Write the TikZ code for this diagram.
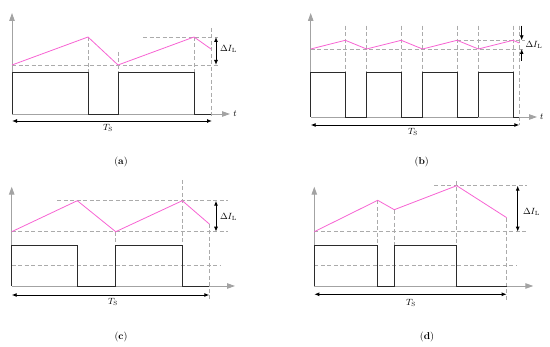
\documentclass[tikz,border=0pt]{standalone}
\usepackage{xcolor}
\usepackage{tikz}
\usetikzlibrary{arrows.meta}
\definecolor{ripplepink}{HTML}{F763D3}
\definecolor{guidegray}{HTML}{ABABAB}
\definecolor{axisgray}{HTML}{A3A3A3}
\definecolor{pulseblack}{HTML}{2B2B2B}

\begin{document}
\begin{tikzpicture}[x=1pt,y=-1pt,>=Latex,every node/.style={font=\small},
        axis/.style={draw=axisgray,line width=0.9pt,-{Triangle[length=8pt,width=5.5pt]}},
        pulse/.style={draw=pulseblack,line width=0.9pt},
        ripple/.style={draw=ripplepink,line width=0.8pt},
        guide/.style={draw=guidegray,line width=0.7pt,dash pattern=on 4pt off 2.5pt},
        span/.style={line width=0.9pt,{Latex[length=5pt,width=4pt]}-{Latex[length=5pt,width=4pt]}},
        half/.style={line width=0.9pt,-{Latex[length=5pt,width=4pt]}}]
        \useasboundingbox (0,0) rectangle (550,347);
        % (a)
        \draw[guide] (12,65) -- (218,65);
        \draw[guide] (143,37) -- (218,37);
        \draw[guide] (88,37) -- (88,114);
        \draw[guide] (118,52) -- (118,72);
        \draw[guide] (194,37) -- (194,72);
        \draw[guide] (211,28) -- (211,116);
        \draw[axis] (12,114) -- (12,13);
        \draw[axis] (12,114) -- (230,114);
        \draw[pulse] (12,114) -- (12,72) -- (88,72) -- (88,114) -- (118,114) -- (118,72) -- (194,72) -- (194,114) -- (211,114);
        \draw[ripple] (12,65) -- (88,37) -- (118,65) -- (194,37) -- (211,49);
        \coordinate (aIt) at (216,37);
        \coordinate (aIb) at (216,65);
        \draw[span] (aIt) -- (aIb);
        \node[anchor=west] (aI) at (216.5,49) {$\Delta I_{\mathrm{L}}$};
        \coordinate (aTl) at (12,121);
        \coordinate (aTr) at (212,121);
        \draw[span] (aTl) -- (aTr);
        \node (aT) at (108,128) {$T_{\mathrm{S}}$};
        \node (ta) at (235,114) {$t$};
        \node[font=\normalsize] (capa) at (121,162) {(\textbf{a})};
        % (b)
        \draw[guide] (310.7,49) -- (525,49);
        \draw[guide] (457,40.3) -- (525,40.3);
        \draw[guide] (519.3,25.7) -- (519.3,125);
        \draw[guide] (513,25.7) -- (513,72);
        \draw[axis] (310.7,117) -- (310.7,13);
        \draw[axis] (310.7,117) -- (537,117);
        \foreach \x in {310.7,366.6,422.5} {
          \draw[guide] (\x+34.6,25.7) -- ++(0,46.3);
          \draw[guide] (\x+55.9,25.7) -- ++(0,46.3);
          \draw[pulse] (\x,117) -- (\x,72) -- ++(34.6,0) -- ++(0,45) -- ++(21.3,0);
          \draw[ripple] (\x,49) -- ++(34.6,-8.7) -- ++(21.3,8.7);
        }
        \draw[pulse] (478.4,117) -- (478.4,72) -- (513,72) -- (513,117) -- (519.3,117);
        \draw[ripple] (478.4,49) -- (513,40.3) -- (519.3,43);
        \coordinate (bIt) at (521.7,25.7);
        \coordinate (bIu) at (521.7,40.3);
        \coordinate (bIb) at (521.7,61);
        \coordinate (bId) at (521.7,49);
        \draw[half] (bIt) -- (bIu);
        \draw[half] (bIb) -- (bId);
        \node[anchor=west] (bI) at (522,45) {$\Delta I_{\mathrm{L}}$};
        \coordinate (bTl) at (310.7,125);
        \coordinate (bTr) at (519.3,125);
        \draw[span] (bTl) -- (bTr);
        \node (bT) at (413,132) {$T_{\mathrm{S}}$};
        \node (tb) at (541.7,117) {$t$};
        \node[font=\normalsize] (capb) at (421.7,162) {(\textbf{b})};
        % (c)
        \draw[guide] (11.7,231.7) -- (228.3,231.7);
        \draw[guide] (57.3,200.7) -- (228.3,200.7);
        \draw[guide] (11.7,265.7) -- (220,265.7);
        \draw[guide] (115.7,231.7) -- (115.7,245);
        \draw[guide] (182.3,180) -- (182.3,286);
        \draw[guide] (209.3,224) -- (209.3,300);
        \draw[axis] (11.7,286) -- (11.7,186.7);
        \draw[axis] (11.7,286) -- (235,286);
        \draw[pulse] (11.7,286) -- (11.7,245) -- (77.3,245) -- (77.3,286) -- (115.7,286) -- (115.7,245) -- (182.3,245) -- (182.3,286) -- (209.3,286);
        \draw[ripple] (11.7,231.7) -- (77.3,200.7) -- (115.7,231.7) -- (182.3,200.7) -- (209.3,224);
        \coordinate (cIt) at (216,200.7);
        \coordinate (cIb) at (216,231.7);
        \draw[span] (cIt) -- (cIb);
        \node[anchor=west] (cI) at (216.5,216.5) {$\Delta I_{\mathrm{L}}$};
        \coordinate (cTl) at (11.7,295);
        \coordinate (cTr) at (209.3,295);
        \draw[span] (cTl) -- (cTr);
        \node (cT) at (113,302) {$T_{\mathrm{S}}$};
        \node[font=\normalsize] (capc) at (121,337) {(\textbf{c})};
        % (d)
        \draw[guide] (314.3,231.7) -- (526.7,231.7);
        \draw[guide] (434.3,185.7) -- (526.7,185.7);
        \draw[guide] (314.3,265.7) -- (516.7,265.7);
        \draw[guide] (377.7,200.3) -- (377.7,245);
        \draw[guide] (394.3,209.7) -- (394.3,245);
        \draw[guide] (456.7,181) -- (456.7,286);
        \draw[guide] (506.7,217.7) -- (506.7,300);
        \draw[axis] (314.3,286) -- (314.3,186.7);
        \draw[axis] (314.3,286) -- (533.3,286);
        \draw[pulse] (314.3,286) -- (314.3,245) -- (377.7,245) -- (377.7,286) -- (394.3,286) -- (394.3,245) -- (456.7,245) -- (456.7,286) -- (506.7,286);
        \draw[ripple] (314.3,231.7) -- (377.7,200.3) -- (394.3,209.7) -- (456.7,185.7) -- (506.7,217.7);
        \coordinate (dIt) at (517.7,185.7);
        \coordinate (dIb) at (517.7,231.7);
        \draw[span] (dIt) -- (dIb);
        \node[anchor=west] (dI) at (519.5,211.7) {$\Delta I_{\mathrm{L}}$};
        \coordinate (dTl) at (314.3,294.3);
        \coordinate (dTr) at (506.7,294.3);
        \draw[span] (dTl) -- (dTr);
        \node (dT) at (411,302.5) {$T_{\mathrm{S}}$};
        \node[font=\normalsize] (capd) at (427,337) {(\textbf{d})};
      \end{tikzpicture}
\end{document}
